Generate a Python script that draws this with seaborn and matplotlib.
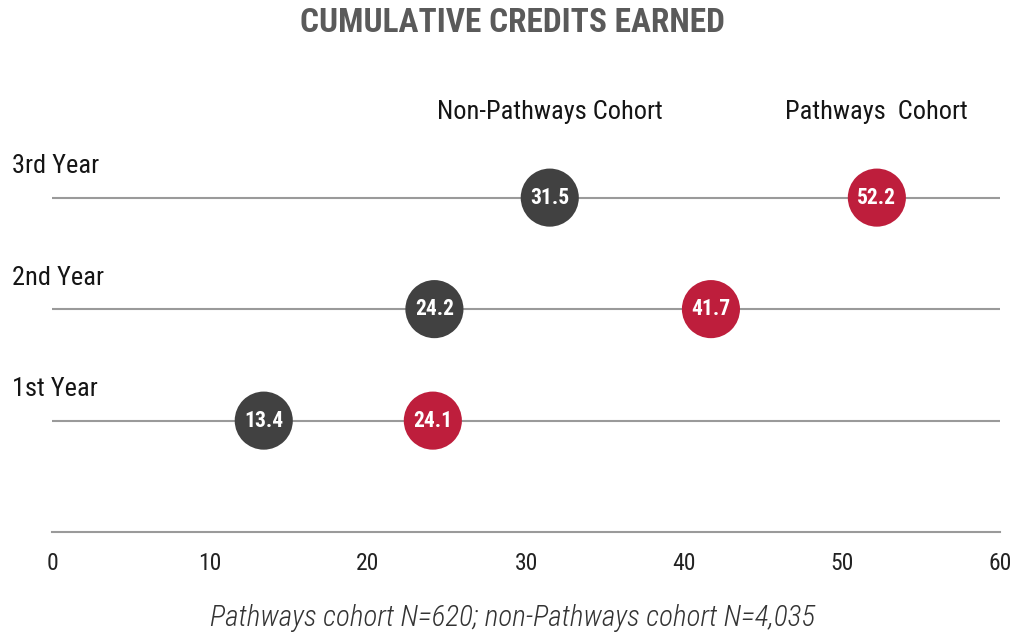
import pandas as pd
import seaborn as sns
import matplotlib.pyplot as plt
import matplotlib.transforms as mtransforms

years = ['1st Year', '2nd Year', '3rd Year']
non_pathways = [13.4, 24.2, 31.5]
pathways = [24.1, 41.7, 52.2]
cohorts = ['Non-Pathways Cohort', 'Pathways  Cohort']
x_ticks = [0, 10, 20, 30, 40, 50, 60]

DARK = '#414141'
RED = '#be1e3c'
GRID = '#9a9a9a'

sns.set_style('white')
plt.rcParams['font.family'] = ['Roboto Condensed', 'DejaVu Sans']

rows = []
for i, y in enumerate(years):
    rows.append({'year': y, 'pos': i, 'credits': non_pathways[i], 'cohort': cohorts[0]})
    rows.append({'year': y, 'pos': i, 'credits': pathways[i], 'cohort': cohorts[1]})
df = pd.DataFrame(rows)

fig = plt.figure(figsize=(10.14, 6.35), dpi=100)
ax = fig.add_axes([0.0513, 0.162, 0.935, 0.7024])

# horizontal guide lines for each year
for i in range(len(years)):
    ax.plot([0, 60], [i, i], color=GRID, lw=1.5, zorder=1)

sns.scatterplot(data=df, x='credits', y='pos', hue='cohort',
                palette={cohorts[0]: DARK, cohorts[1]: RED},
                s=1750, edgecolor='none', legend=False, zorder=3, ax=ax)

for _, r in df.iterrows():
    ax.text(r['credits'], r['pos'], f"{r['credits']:.1f}", ha='center', va='center',
            color='white', fontsize=15.5, fontweight='bold', zorder=4)

# year labels above each line, left of the axis
trans = mtransforms.blended_transform_factory(ax.transAxes, ax.transData)
for i, y in enumerate(years):
    ax.text(-0.042, i + 0.28, y, transform=trans, ha='left', va='center',
            fontsize=19, color='#151515')

# cohort labels above the top row
ax.text(non_pathways[-1], 2.77, cohorts[0], ha='center', va='center', fontsize=19, color='#151515')
ax.text(pathways[-1], 2.77, cohorts[1], ha='center', va='center', fontsize=19, color='#151515')

ax.set_xlim(0, 60)
ax.set_ylim(-1, 3)
ax.set_xticks(x_ticks)
ax.set_yticks([])
ax.set_xlabel('')
ax.set_ylabel('')
for side in ['top', 'right', 'left']:
    ax.spines[side].set_visible(False)
ax.spines['bottom'].set_color(GRID)
ax.spines['bottom'].set_linewidth(1.5)
ax.tick_params(axis='x', colors=GRID, length=6, width=1.2, pad=8, labelsize=17,
               labelcolor='#222222')

fig.text(0.505, 0.963, 'CUMULATIVE CREDITS EARNED', ha='center', va='center',
         fontsize=24, fontweight='bold', color='#5a5a5a')
fig.text(0.505, 0.026, 'Pathways cohort N=620; non-Pathways cohort N=4,035', ha='center',
         va='center', fontsize=21, style='italic', fontweight='light', color='#333333')

fig.savefig('out.png', dpi=100)
